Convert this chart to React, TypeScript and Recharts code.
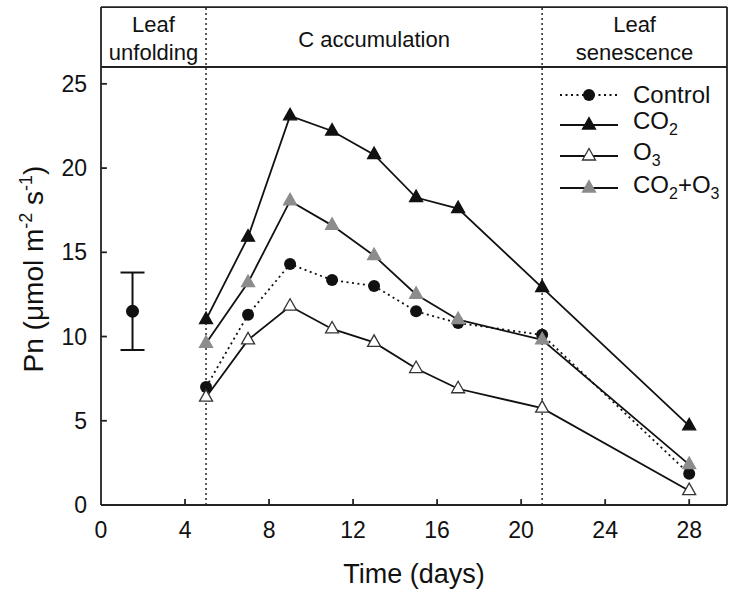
import {
  ComposedChart,
  Line,
  Scatter,
  ErrorBar,
  XAxis,
  YAxis,
  ReferenceLine,
  ReferenceArea,
  Legend,
} from 'recharts';

// Sampling days and net photosynthesis (Pn) for each treatment
const days = [5, 7, 9, 11, 13, 15, 17, 21, 28];
const control = [7.0, 11.3, 14.3, 13.35, 13.0, 11.5, 10.8, 10.1, 1.85];
const co2 = [11.0, 15.9, 23.1, 22.2, 20.8, 18.25, 17.6, 12.9, 4.7];
const o3 = [6.4, 9.8, 11.8, 10.45, 9.65, 8.1, 6.9, 5.75, 0.85];
const co2o3 = [9.6, 13.2, 18.05, 16.6, 14.8, 12.5, 11.0, 9.8, 2.4];

// Single point with its error bar during leaf unfolding
const unfoldDay = [1.5];
const unfoldPn = [11.5];
const unfoldErr = [2.3];

const xTicks = [0, 4, 8, 12, 16, 20, 24, 28];
const yTicks = [0, 5, 10, 15, 20, 25];

// Phase boundaries (days) and their header labels
const phaseBounds = [0, 5, 21, 29.8];
const phaseLabels = [['Leaf', 'unfolding'], ['C accumulation'], ['Leaf', 'senescence']];

const X_MAX = 29.8;
const Y_MAX = 26;
const HEADER_TOP = 29.56;

const FONT = '"Liberation Sans", Arial, sans-serif';
const INK = '#111';

const chartData = days.map((day, i) => ({
  day,
  control: control[i],
  co2: co2[i],
  o3: o3[i],
  co2o3: co2o3[i],
}));

const unfoldData = unfoldDay.map((day, i) => ({ day, pn: unfoldPn[i], err: unfoldErr[i] }));

const circleDot = (props: any) => {
  const { cx, cy, index } = props;
  if (cx == null || cy == null) return null;
  return <circle key={index} cx={cx} cy={cy} r={6} fill={INK} />;
};

const triangleDot = (fill: string, stroke: string) => (props: any) => {
  const { cx, cy, index } = props;
  if (cx == null || cy == null) return null;
  return (
    <polygon
      key={index}
      points={`${cx},${cy - 7.5} ${cx - 6.5},${cy + 4} ${cx + 6.5},${cy + 4}`}
      fill={fill}
      stroke={stroke}
      strokeWidth={1.3}
    />
  );
};

function PhaseLabel({ viewBox, lines }: any) {
  if (!viewBox) return null;
  const cx = viewBox.x + viewBox.width / 2;
  const cy = viewBox.y + viewBox.height / 2;
  const first = lines.length === 1 ? cy + 10 : cy - 5;
  return (
    <text x={cx} y={first} textAnchor="middle" fontFamily={FONT} fontSize={22} fill={INK}>
      {lines.map((l: string, i: number) => (
        <tspan key={i} x={cx} dy={i === 0 ? 0 : 28}>
          {l}
        </tspan>
      ))}
    </text>
  );
}

function LegendBox() {
  const rows = [95, 125, 156, 188].map((y) => y - 80);
  const lineX1 = 5;
  const lineX2 = 63;
  const mx = 34;
  const tx = 78;
  const sub = { fontSize: 16 };
  return (
    <svg width={175} height={130} style={{ overflow: 'visible' }}>
      <g fontFamily={FONT} fontSize={24} fill={INK}>
        <line x1={lineX1} x2={lineX2} y1={rows[0]} y2={rows[0]} stroke={INK} strokeWidth={1.8} strokeDasharray="2 3.5" />
        {circleDot({ cx: mx, cy: rows[0], index: 'l0' })}
        <text x={tx} y={rows[0] + 8}>Control</text>

        <line x1={lineX1} x2={lineX2} y1={rows[1]} y2={rows[1]} stroke={INK} strokeWidth={1.8} />
        {triangleDot(INK, INK)({ cx: mx, cy: rows[1], index: 'l1' })}
        <text x={tx} y={rows[1] + 4}>
          CO<tspan dy={6} {...sub}>2</tspan>
        </text>

        <line x1={lineX1} x2={lineX2} y1={rows[2]} y2={rows[2]} stroke={INK} strokeWidth={1.8} />
        {triangleDot('#fff', '#333')({ cx: mx, cy: rows[2], index: 'l2' })}
        <text x={tx} y={rows[2] + 4}>
          O<tspan dy={6} {...sub}>3</tspan>
        </text>

        <line x1={lineX1} x2={lineX2} y1={rows[3]} y2={rows[3]} stroke={INK} strokeWidth={1.8} />
        {triangleDot('#8c8c8c', '#8c8c8c')({ cx: mx, cy: rows[3], index: 'l3' })}
        <text x={tx} y={rows[3] + 5}>
          CO<tspan dy={6} {...sub}>2</tspan>
          <tspan dy={-6}>+O</tspan>
          <tspan dy={6} {...sub}>3</tspan>
        </text>
      </g>
    </svg>
  );
}

function YTitle({ viewBox }: any) {
  if (!viewBox) return null;
  const x = viewBox.x - 8;
  const y = viewBox.y + viewBox.height / 2 - 17;
  return (
    <text
      transform={`translate(${x}, ${y}) rotate(-90)`}
      textAnchor="middle"
      fontFamily={FONT}
      fontSize={28}
      fill={INK}
    >
      Pn (μmol m<tspan dy={-11} fontSize={18}>-2</tspan>
      <tspan dy={11}> s</tspan>
      <tspan dy={-11} fontSize={18}>-1</tspan>
      <tspan dy={11}>)</tspan>
    </text>
  );
}

function XTitle({ viewBox }: any) {
  if (!viewBox) return null;
  return (
    <text
      x={viewBox.x + viewBox.width / 2}
      y={583}
      textAnchor="middle"
      fontFamily={FONT}
      fontSize={27}
      fill={INK}
    >
      Time (days)
    </text>
  );
}

export default function App() {
  const frame = { stroke: '#222', strokeWidth: 1.8 };
  const divider = { stroke: '#333', strokeWidth: 1.6, strokeDasharray: '2 3' };

  return (
    <div style={{ position: 'absolute', left: 0, top: 0, background: '#fff' }}>
      <ComposedChart
        width={730}
        height={595}
        data={chartData}
        margin={{ top: 67, right: 3, bottom: 30, left: 51 }}
      >
        <XAxis
          dataKey="day"
          type="number"
          domain={[0, X_MAX]}
          allowDataOverflow
          ticks={xTicks}
          tickSize={0}
          tickMargin={17}
          height={60}
          axisLine={frame}
          tick={{ fill: INK, fontSize: 23, fontFamily: FONT }}
          label={<XTitle />}
        />
        <YAxis
          type="number"
          domain={[0, Y_MAX]}
          allowDataOverflow
          ticks={yTicks}
          tickSize={0}
          tickMargin={14}
          width={50}
          axisLine={frame}
          tick={{ fill: INK, fontSize: 23, fontFamily: FONT }}
          label={<YTitle />}
        />

        {/* inward tick marks */}
        {xTicks.slice(1).map((t) => (
          <ReferenceLine key={`xt${t}`} segment={[{ x: t, y: 0 }, { x: t, y: 0.35 }]} {...frame} ifOverflow="visible" />
        ))}
        {yTicks.slice(1).map((t) => (
          <ReferenceLine key={`yt${t}`} segment={[{ x: 0, y: t }, { x: 0.28, y: t }]} {...frame} ifOverflow="visible" />
        ))}

        {/* frame and phase header */}
        <ReferenceLine segment={[{ x: 0, y: Y_MAX }, { x: X_MAX, y: Y_MAX }]} {...frame} ifOverflow="visible" />
        <ReferenceLine segment={[{ x: 0, y: HEADER_TOP }, { x: X_MAX, y: HEADER_TOP }]} {...frame} ifOverflow="visible" />
        <ReferenceLine segment={[{ x: 0, y: Y_MAX }, { x: 0, y: HEADER_TOP }]} {...frame} ifOverflow="visible" />
        <ReferenceLine segment={[{ x: X_MAX, y: 0 }, { x: X_MAX, y: HEADER_TOP }]} {...frame} ifOverflow="visible" />
        {phaseBounds.slice(1, -1).map((b) => (
          <ReferenceLine key={`d${b}`} segment={[{ x: b, y: 0 }, { x: b, y: HEADER_TOP }]} {...divider} ifOverflow="visible" />
        ))}
        {phaseLabels.map((lines, i) => (
          <ReferenceArea
            key={`p${i}`}
            x1={phaseBounds[i]}
            x2={phaseBounds[i + 1]}
            y1={Y_MAX}
            y2={HEADER_TOP}
            fill="none"
            stroke="none"
            ifOverflow="visible"
            label={<PhaseLabel lines={lines} />}
          />
        ))}

        <Scatter
          data={unfoldData}
          dataKey="pn"
          isAnimationActive={false}
          shape={(p: any) => <circle cx={p.cx} cy={p.cy} r={6.5} fill={INK} />}
        >
          <ErrorBar dataKey="err" direction="y" width={12} stroke={INK} strokeWidth={2} />
        </Scatter>

        <Line
          dataKey="control"
          type="linear"
          stroke={INK}
          strokeWidth={1.8}
          strokeDasharray="2 3.5"
          dot={circleDot}
          activeDot={false}
          isAnimationActive={false}
        />
        <Line
          dataKey="o3"
          type="linear"
          stroke={INK}
          strokeWidth={1.8}
          dot={triangleDot('#fff', '#333')}
          activeDot={false}
          isAnimationActive={false}
        />
        <Line
          dataKey="co2"
          type="linear"
          stroke={INK}
          strokeWidth={1.8}
          dot={triangleDot(INK, INK)}
          activeDot={false}
          isAnimationActive={false}
        />
        <Line
          dataKey="co2o3"
          type="linear"
          stroke={INK}
          strokeWidth={1.8}
          dot={triangleDot('#8c8c8c', '#8c8c8c')}
          activeDot={false}
          isAnimationActive={false}
        />

        <Legend
          layout="horizontal"
          verticalAlign="middle"
          align="center"
          wrapperStyle={{ left: 555, top: 80, width: 175, height: 130 }}
          content={() => <LegendBox />}
        />
      </ComposedChart>
    </div>
  );
}
